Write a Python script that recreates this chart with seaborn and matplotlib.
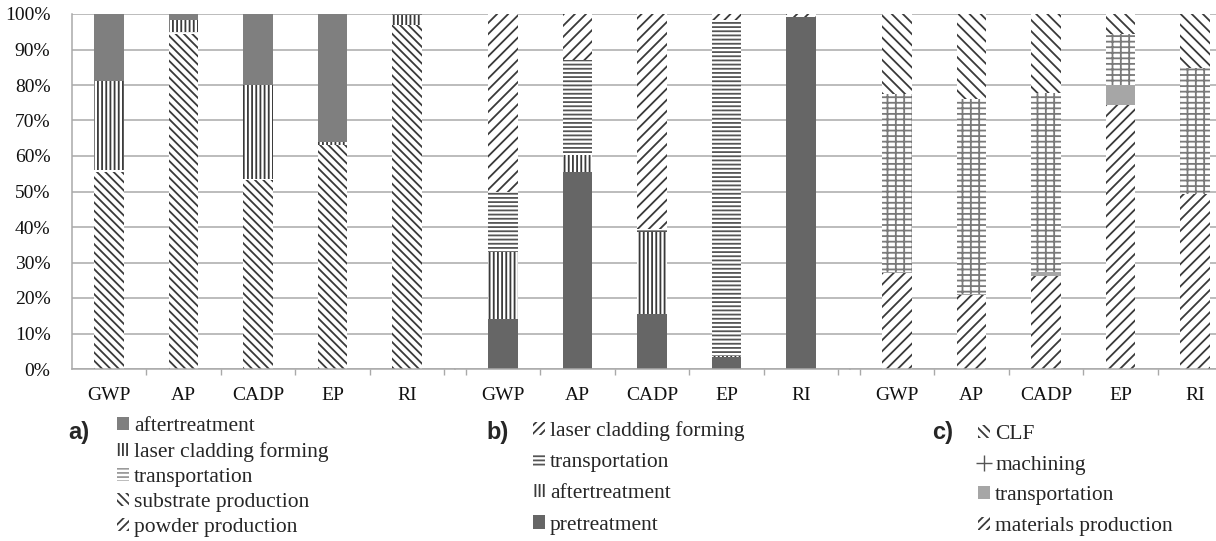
import numpy as np
import pandas as pd
import matplotlib
matplotlib.use("Agg")
import matplotlib.pyplot as plt
from matplotlib.patches import Patch
from matplotlib.lines import Line2D
from matplotlib.ticker import PercentFormatter, MultipleLocator, FixedLocator
import seaborn as sns

sns.set_style("white")
plt.rcParams["font.family"] = ["Liberation Serif", "DejaVu Serif"]
plt.rcParams["hatch.linewidth"] = 1.3

categories = ["GWP", "AP", "CADP", "EP", "RI"]

# a) shares in %, stack order bottom -> top
a_layers = ["powder production", "substrate production", "transportation",
            "laser cladding forming", "aftertreatment"]
a_powder = [31.0, 31.0, 31.0, 31.0, 31.0]
a_substrate = [24.5, 63.5, 22.3, 32.0, 65.8]
a_transport = [0.5, 0.3, 0.3, 0.2, 0.2]
a_lcf = [25.0, 3.4, 26.4, 0.8, 2.6]
a_after = [19.0, 1.8, 20.0, 36.0, 0.4]

# b)
b_layers = ["pretreatment", "aftertreatment", "transportation", "laser cladding forming"]
b_pre = [14.0, 55.5, 15.4, 3.5, 99.2]
b_after = [19.0, 4.8, 23.3, 0.2, 0.0]
b_transport = [17.0, 26.7, 0.7, 94.7, 0.0]
b_lcf = [50.0, 13.0, 60.6, 1.6, 0.8]

# c)
c_layers = ["materials production", "transportation", "machining", "CLF"]
c_materials = [27.0, 20.8, 26.2, 74.3, 49.2]
c_transport = [0.2, 0.2, 1.2, 5.7, 0.2]
c_machining = [50.2, 55.0, 50.3, 14.3, 35.3]
c_clf = [22.6, 24.0, 22.3, 5.7, 15.3]

HATCH = "#3a3a3a"
GRID = "#a9a9a9"

# (facecolor, bar hatch, hatch colour, legend hatch)
a_styles = [("white", "\\\\\\\\", HATCH, "////"),
            ("white", "\\\\\\\\", HATCH, "\\\\\\\\"),
            ("white", "----", "#9a9a9a", "----"),
            ("white", "||||", HATCH, "||||"),
            ("#7f7f7f", "", "#7f7f7f", "")]
b_styles = [("#666666", "", "#666666", ""),
            ("white", "||||", HATCH, "||||"),
            ("white", "----", "#555555", "----"),
            ("white", "///", HATCH, "////")]
c_styles = [("white", "///", HATCH, "////"),
            ("#a6a6a6", "", "#a6a6a6", ""),
            ("white", "++-", "#7a7a7a", "+"),
            ("white", "\\\\\\", HATCH, "\\\\\\\\")]

fig = plt.figure(figsize=(12.16, 5.41), dpi=100)
W, H = 1216, 541
unit = 74.5  # px per category
y0, y1 = 369, 14


def make_axes(left, right):
    return fig.add_axes([left / W, 1 - y0 / H, (right - left) / W, (y0 - y1) / H])


def draw_panel(ax, layers, values, styles, first_center, left, right):
    cum = np.cumsum(np.array(values), axis=0)
    for i in reversed(range(len(layers))):
        face, hatch, hcol, _ = styles[i]
        df = pd.DataFrame({"metric": categories, "share": cum[i]})
        sns.barplot(data=df, x="metric", y="share", order=categories, ax=ax,
                    width=0.39, color=face, saturation=1, errorbar=None,
                    edgecolor=hcol, linewidth=0, hatch=hatch)
    ax.set_xlim((left - first_center) / unit, (right - first_center) / unit)
    ax.set_ylim(0, 100)
    ax.yaxis.set_major_locator(MultipleLocator(10))
    ax.yaxis.grid(True, color=GRID, lw=1.1)
    ax.xaxis.grid(False)
    ax.set_axisbelow(True)
    ax.set_xlabel("")
    ax.set_ylabel("")
    for s in ["top", "right", "left"]:
        ax.spines[s].set_visible(False)
    ax.spines["bottom"].set_color(GRID)
    ax.spines["bottom"].set_linewidth(1.1)
    ax.xaxis.set_minor_locator(FixedLocator(np.arange(-0.5, 5.0, 1.0)))
    ax.tick_params(axis="x", which="major", length=0, pad=13, labelsize=14,
                   labelcolor="#111111")
    ax.tick_params(axis="x", which="minor", length=4.5, width=1.0, color=GRID,
                   direction="out", bottom=True)
    ax.tick_params(axis="y", length=0, labelleft=False)


def add_legend(layers, styles, x, y, spacing):
    handles = []
    for f, _, hc, lh in styles:
        if lh == "+":
            handles.append(Line2D([], [], marker="+", linestyle="", color="#555555",
                                  markersize=11, markeredgewidth=1.0))
        else:
            handles.append(Patch(facecolor=f, hatch=lh, edgecolor=hc, linewidth=0))
    fig.legend(handles[::-1], layers[::-1], loc="upper left",
               bbox_to_anchor=(x / W, 1 - y / H), frameon=False, fontsize=15.5,
               handlelength=0.56, handleheight=0.56, handletextpad=0.23,
               labelspacing=spacing, borderpad=0, borderaxespad=0)


ax_a = make_axes(72, 455)
ax_b = make_axes(455, 850)
ax_c = make_axes(850, 1216)

draw_panel(ax_a, a_layers, [a_powder, a_substrate, a_transport, a_lcf, a_after],
           a_styles, 109, 72, 455)
draw_panel(ax_b, b_layers, [b_pre, b_after, b_transport, b_lcf],
           b_styles, 503, 455, 850)
draw_panel(ax_c, c_layers, [c_materials, c_transport, c_machining, c_clf],
           c_styles, 897, 850, 1216)

ax_a.spines["left"].set_visible(True)
ax_a.spines["left"].set_color(GRID)
ax_a.spines["left"].set_linewidth(1.1)
ax_a.yaxis.set_major_formatter(PercentFormatter(decimals=0))
ax_a.tick_params(axis="y", length=5, width=1.1, color=GRID, labelleft=True,
                 labelsize=14, pad=10.5, labelcolor="#111111")

add_legend(a_layers, a_styles, 117, 417, 0.27)
add_legend(b_layers, b_styles, 533, 421, 0.56)
add_legend(c_layers, c_styles, 978, 425, 0.53)

for lab, x in [("a)", 79), ("b)", 498), ("c)", 943)]:
    fig.text(x / W, 1 - 432 / H, lab, ha="center", va="center", fontsize=17,
             fontweight="bold", family=["Liberation Sans", "DejaVu Sans"])

fig.savefig("out.png", dpi=100)
